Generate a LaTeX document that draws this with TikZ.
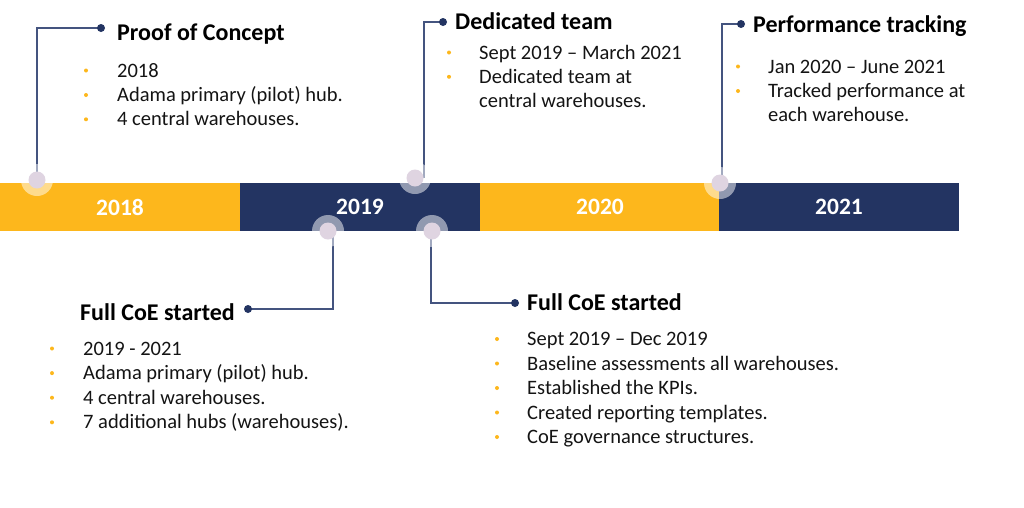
\documentclass[tikz,border=0pt]{standalone}
\usepackage{fontspec}
\setmainfont{Carlito}
\definecolor{ylw}{HTML}{FDB71C}
\definecolor{navy}{HTML}{233462}
\definecolor{lnk}{HTML}{44547F}
\definecolor{lav}{HTML}{DFD4E1}
\definecolor{txt}{HTML}{141414}
\pgfdeclarelayer{back}
\pgfdeclarelayer{mid}
\pgfsetlayers{back,mid,main}
\newcommand\itemline[5]{%
  \node[bul] (#1b) at (#2,#4-6.5) {};
  \node[itm] (#1) at (#3,#4) {#5};}
\begin{document}
\begin{tikzpicture}[x=1pt,y=-1pt,
 seg/.style={minimum width=240pt, minimum height=48pt, inner sep=0pt, outer sep=0pt,
   text=white, font=\fontsize{23.5}{26}\selectfont\bfseries, anchor=north west},
 halo/.style={circle, fill=white, fill opacity=0.5, minimum size=32pt, inner sep=0pt},
 pin/.style={circle, fill=lav, minimum size=17pt, inner sep=0pt},
 tip/.style={circle, fill=navy, minimum size=8pt, inner sep=0pt},
 ttl/.style={anchor=base west, inner sep=0pt, text=black, font=\fontsize{24}{28}\selectfont\bfseries},
 itm/.style={anchor=base west, inner sep=0pt, text=txt, font=\fontsize{20.5}{24}\selectfont},
 bul/.style={circle, fill=ylw, minimum size=4pt, inner sep=0pt},
 conn/.style={draw=lnk, line width=1.5pt}]
\useasboundingbox (0,0) rectangle (1024,507);
% timeline bar
\begin{pgfonlayer}{back}
\fill[white] (0,0) rectangle (1024,507);
\node[seg, fill=ylw] (s18) at (0,183) {2018};
\node[seg, fill=navy] (s19) at (240,183) {2019};
\node[seg, fill=ylw] (s20) at (480,183) {2020};
\node[seg, fill=navy] (s21) at (719,183) {2021};
\end{pgfonlayer}
% markers
\foreach \n/\x/\y in {m1/37/180, m2/415/178, m3/328/231, m4/432/231, m5/720/183}{
  \node[halo] at (\x,\y) {};
  \node[pin] (\n) at (\x,\y) {};
}
% end dots
\node[tip] (d1) at (101,28) {};
\node[tip] (d2) at (443,22) {};
\node[tip] (d3) at (248,309) {};
\node[tip] (d4) at (515,303) {};
\node[tip] (d5) at (741,24) {};
% connectors
\begin{pgfonlayer}{mid}
\draw[conn] (m1.center) |- (d1.center);
\draw[conn] ([xshift=9pt]m2.center) |- (d2.center);
\draw[conn] ([xshift=5pt]m3.center) |- (d3.center);
\draw[conn] ([xshift=-1pt]m4.center) |- (d4.center);
\draw[conn] ([xshift=2pt]m5.center) |- (d5.center);
\end{pgfonlayer}
% Proof of Concept
\node[ttl] (t1) at (117,40) {Proof of Concept};
\itemline{a1}{86}{117}{77}{2018}
\itemline{a2}{86}{117}{101.5}{Adama primary (pilot) hub.}
\itemline{a3}{86}{117}{125.8}{4 central warehouses.}
% Dedicated team
\node[ttl] (t2) at (455,29.5) {Dedicated team};
\itemline{b1}{449}{479}{59}{Sept 2019 -- March 2021}
\itemline{b2}{449}{479}{83.3}{Dedicated team at}
\node[itm] (b3) at (479,107.6) {central warehouses.};
% Performance tracking
\node[ttl] (t3) at (753,32) {Performance tracking};
\itemline{c1}{738}{768}{73}{Jan 2020 -- June 2021}
\itemline{c2}{738}{768}{97.5}{Tracked performance at}
\node[itm] (c3) at (768,121.8) {each warehouse.};
% Full CoE started (left)
\node[ttl] (t4) at (80,320) {Full CoE started};
\itemline{e1}{52}{83}{355}{2019 - 2021}
\itemline{e2}{52}{83}{379.6}{Adama primary (pilot) hub.}
\itemline{e3}{52}{83}{404.2}{4 central warehouses.}
\itemline{e4}{52}{83}{428.8}{7 additional hubs (warehouses).}
% Full CoE started (right)
\node[ttl] (t5) at (527,310.5) {Full CoE started};
\itemline{f1}{497}{527}{345.5}{Sept 2019 -- Dec 2019}
\itemline{f2}{497}{527}{370}{Baseline assessments all warehouses.}
\itemline{f3}{497}{527}{394.5}{Established the KPIs.}
\itemline{f4}{497}{527}{419}{Created reporting templates.}
\itemline{f5}{497}{527}{443.5}{CoE governance structures.}
\end{tikzpicture}
\end{document}
